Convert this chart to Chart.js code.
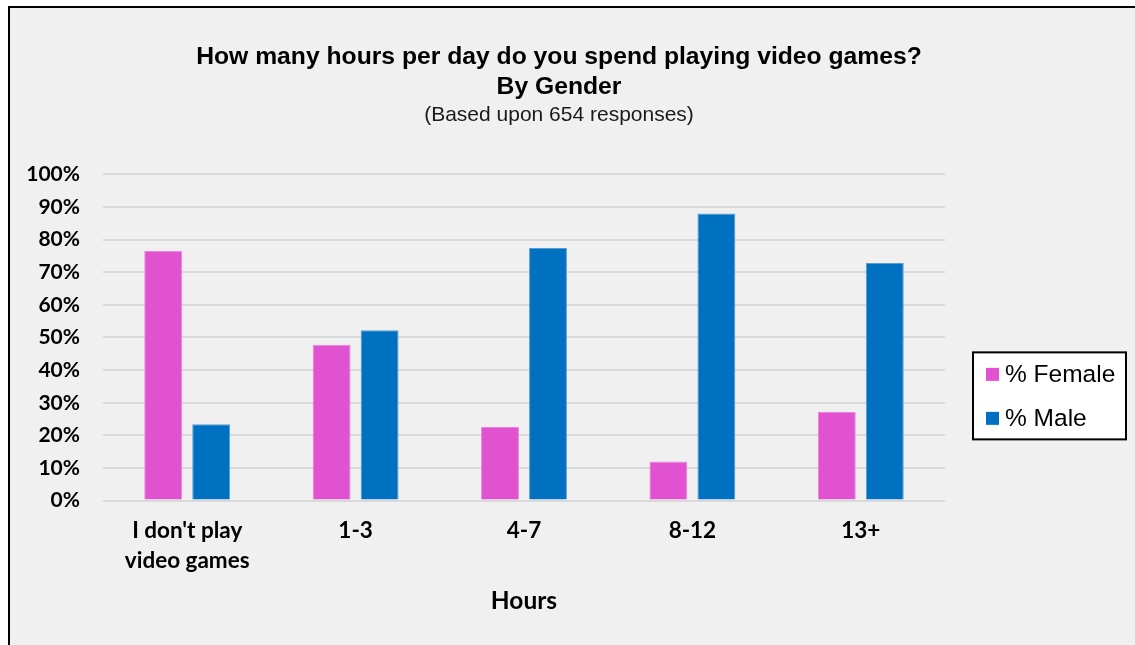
<!DOCTYPE html>
<html lang="en">
<head>
  <meta charset="UTF-8">
  <script src="https://cdn.jsdelivr.net/npm/chart.js"></script>
  <title>Video game hours by gender</title>
  <style>
    html, body { margin: 0; padding: 0; background: #fff; overflow: hidden; }
    .moldura {
      position: absolute; left: 8px; top: 6px;
      width: 1125px; height: 640px;
      border-left: 2px solid #000; border-top: 2px solid #000;
      background: #f0f0f0;
    }
    canvas { display: block; }
  </style>
</head>
<body>
  <div class="moldura">
    <canvas id="chartBar" width="1125" height="640"></canvas>
  </div>

<script>
  // dados
  const categorias = [['I don\'t play', 'video games'], '1-3', '4-7', '8-12', '13+'];
  const feminino = [76.6, 47.8, 22.6, 12.0, 27.2];
  const masculino = [23.4, 52.2, 77.4, 88.0, 72.8];
  const ticksY = ['0%', '10%', '20%', '30%', '40%', '50%', '60%', '70%', '80%', '90%', '100%'];

  // legenda desenhada dentro de uma caixa branca
  const legendaCaixa = {
    id: 'legendaCaixa',
    afterDraw(chart) {
      const ctx = chart.ctx;
      const a = chart.chartArea;
      const x = a.right + 28, y = a.top + 178, w = 153, h = 87;
      ctx.save();
      ctx.fillStyle = '#ffffff';
      ctx.fillRect(x, y, w, h);
      ctx.strokeStyle = '#000';
      ctx.lineWidth = 2;
      ctx.strokeRect(x, y, w, h);
      ctx.font = '24.5px "Liberation Sans", Arial, sans-serif';
      ctx.textBaseline = 'middle';
      chart.data.datasets.forEach(function (ds, i) {
        const cy = y + 22 + i * 44;
        ctx.fillStyle = ds.backgroundColor;
        ctx.fillRect(x + 13, cy - 6.5, 13, 13);
        ctx.fillStyle = '#000';
        ctx.fillText(ds.label, x + 32, cy + 1);
      });
      ctx.restore();
    }
  };

  const dataBar = {
    labels: categorias,
    datasets: [{
      label: '% Female',
      backgroundColor: '#e052cf',
      borderColor: '#e884dc',
      borderWidth: 1,
      data: feminino,
      categoryPercentage: 0.57,
      barPercentage: 0.79
    }, {
      label: '% Male',
      backgroundColor: '#0070c0',
      borderColor: '#5a9bd0',
      borderWidth: 1,
      data: masculino,
      categoryPercentage: 0.57,
      barPercentage: 0.79
    }]
  };

  const configBar = {
    type: 'bar',
    data: dataBar,
    options: {
      responsive: false,
      animation: false,
      layout: { padding: { left: 0, right: 27, top: 0, bottom: 32 } },
      plugins: {
        legend: { display: false },
        tooltip: { enabled: false },
        title: {
          display: true,
          text: ['How many hours per day do you spend playing video games?', 'By Gender'],
          color: '#000',
          font: { family: '"Liberation Sans", Arial, sans-serif', size: 24.7, weight: 'bold', lineHeight: 1.22 },
          padding: { top: 34, bottom: 1 }
        },
        subtitle: {
          display: true,
          text: '(Based upon 654 responses)',
          color: '#1a1a1a',
          font: { family: '"Liberation Sans", Arial, sans-serif', size: 21, weight: 'normal', lineHeight: 1.1 },
          padding: { top: 0, bottom: 48 }
        }
      },
      scales: {
        x: {
          grid: { display: false, drawTicks: false },
          border: { display: false },
          ticks: {
            color: '#000',
            font: { family: 'Lato, sans-serif', size: 22.5, weight: 'bold', lineHeight: 1.333 },
            padding: 15,
            maxRotation: 0
          },
          title: {
            display: true,
            text: 'Hours',
            color: '#000',
            font: { family: 'Lato, sans-serif', size: 24.5, weight: 'bold', lineHeight: 1.2 },
            padding: { top: -4, bottom: 0 }
          }
        },
        y: {
          min: 0,
          max: 100,
          afterFit: function (s) { s.width = 93; },
          grid: { color: '#d9d9d9', lineWidth: 2, drawTicks: false },
          border: { display: false },
          ticks: {
            stepSize: 10,
            padding: 23,
            color: '#000',
            font: { family: 'Lato, sans-serif', size: 21, weight: 'bold' },
            callback: function (v) { return ticksY[Math.round(v / 10)]; }
          }
        },
        // espaço reservado para a legenda à direita
        legendaEspaco: {
          type: 'linear',
          position: 'right',
          afterFit: function (s) { s.width = 163; },
          grid: { display: false, drawTicks: false },
          border: { display: false },
          ticks: { display: false }
        }
      }
    },
    plugins: [legendaCaixa]
  };

  const bar = new Chart(document.getElementById('chartBar'), configBar);
</script>
</body>
</html>
